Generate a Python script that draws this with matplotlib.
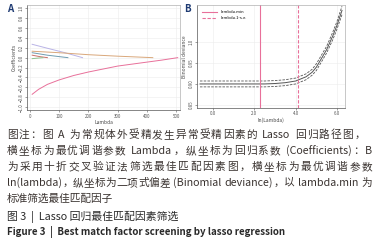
import re
import numpy as np
import matplotlib
matplotlib.use('Agg')
import matplotlib.pyplot as plt

plt.rcParams['font.family'] = ['Noto Sans CJK SC', 'DejaVu Sans']

# Panel A: coefficient paths (lambda, coefficient)
pink_lam = [8, 30, 60, 100, 150, 200, 250, 300, 350, 400, 450, 505]
pink_coef = [-0.74, -0.64, -0.54, -0.45, -0.36, -0.29, -0.23, -0.17, -0.13, -0.09, -0.05, 0.0]
lav_lam = [8, 60, 120, 180]
lav_coef = [0.27, 0.19, 0.10, 0.0]
tan_lam = [8, 100, 200, 300, 420]
tan_coef = [0.13, 0.10, 0.06, 0.03, 0.0]
blue_lam = [8, 60, 130]
blue_coef = [0.10, 0.05, 0.0]
red_lam = [8, 35, 60]
red_coef = [0.05, 0.02, 0.0]
green_lam = [8, 25, 45]
green_coef = [-0.02, -0.01, 0.0]

# Panel B: cross-validation curve
ln_lam = [-0.63, 0.5, 1.5, 2.5, 3.0, 3.5, 4.0, 4.5, 4.8, 5.0, 5.3, 5.5, 5.8, 6.0, 6.24]
deviance = [0.900, 0.900, 0.900, 0.900, 0.901, 0.903, 0.907, 0.917, 0.928, 0.940, 0.965, 0.982, 1.015, 1.040, 1.075]
dev_se = [0.007, 0.007, 0.007, 0.007, 0.007, 0.007, 0.007, 0.007, 0.007, 0.008, 0.008, 0.008, 0.009, 0.009, 0.010]
lambda_min = 2.26
lambda_1se = 4.09

caption = [
    "图注：图 A 为常规体外受精发生异常受精因素的 Lasso 回归路径图，",
    "横坐标为最优调谐参数 Lambda，纵坐标为回归系数 (Coefficients)：B",
    "为采用十折交叉验证法筛选最佳匹配因素图，横坐标为最优调谐参数",
    "ln(lambda)，纵坐标为二项式偏差 (Binomial deviance)，以 lambda.min 为",
    "标准筛选最佳匹配因子",
]
title_cn = "图 3  |  Lasso 回归最佳匹配因素筛选"
title_en = "Figure 3  |  Best match factor screening by lasso regression"

fig = plt.figure(figsize=(3.79, 2.48), dpi=100)
renderer = fig.canvas.get_renderer()


def style_axes(ax):
    ax.grid(True, color='#ececec', lw=0.4)
    ax.set_axisbelow(True)
    for s in ax.spines.values():
        s.set_color('#b0b0b0')
        s.set_linewidth(0.5)
    ax.spines['left'].set_color('#555555')
    ax.spines['bottom'].set_color('#555555')
    ax.tick_params(labelsize=3.2, length=1.5, width=0.4, pad=1, colors='#555555')
    for lab in ax.get_yticklabels():
        lab.set_rotation(90)
        lab.set_va('center')


def justified(line, x0, x1, y, size, color):
    """Draw one caption line stretched from pixel x0 to x1."""
    units = re.findall(r'[A-Za-z0-9().:\-]+|\s|.', line)
    widths = []
    for u in units:
        if u == ' ':
            widths.append(size * 0.35)
            continue
        t = fig.text(0, 0, u, fontsize=size)
        widths.append(t.get_window_extent(renderer).width)
        t.remove()
    gap = (x1 - x0 - sum(widths)) / (len(units) - 1)
    x = x0
    for u, w in zip(units, widths):
        if u != ' ':
            fig.text(x / 379, 1 - y / 248, u, fontsize=size, color=color, va='center')
        x += w + gap


# A
axA = fig.add_axes([0.071, 0.556, 0.404, 0.423])
axA.plot(pink_lam, pink_coef, color='#e8709a', lw=0.7)
axA.plot(lav_lam, lav_coef, color='#b9b3e6', lw=0.7)
axA.plot(tan_lam, tan_coef, color='#d9a77a', lw=0.7)
axA.plot(blue_lam, blue_coef, color='#6f9cb0', lw=0.7)
axA.plot(red_lam, red_coef, color='#c9706a', lw=0.7)
axA.plot(green_lam, green_coef, color='#8cc08c', lw=0.7)
axA.set_xlim(-10, 513)
axA.set_ylim(-1.06, 1.06)
axA.set_xticks([0, 100, 200, 300, 400, 500])
axA.set_yticks(np.round(np.arange(-1.0, 1.01, 0.2), 1))
axA.set_xlabel('Lambda', fontsize=3.5, labelpad=1, color='#444444')
axA.set_ylabel('Coefficients', fontsize=3.5, labelpad=1, color='#444444')
style_axes(axA)

# B
axB = fig.add_axes([0.52, 0.565, 0.39, 0.415])
dev = np.array(deviance)
se = np.array(dev_se)
axB.plot(ln_lam, dev, color='#555555', lw=0.7)
axB.plot(ln_lam, dev + se, color='#555555', lw=0.6, ls=(0, (3, 1.5)))
axB.plot(ln_lam, dev - se, color='#555555', lw=0.6, ls=(0, (3, 1.5)))
axB.axvline(lambda_min, color='#e8709a', lw=0.8, label='lambda.min')
axB.axvline(lambda_1se, color='#e8709a', lw=0.8, ls=(0, (3, 1.5)), label='lambda.1-s.e.')
axB.set_xlim(-0.77, 6.38)
axB.set_ylim(0.843, 1.088)
axB.set_xticks([0, 2, 4, 6])
axB.set_xticklabels(['0.0', '2.0', '4.0', '6.0'])
axB.set_yticks([0.85, 0.90, 0.95, 1.00])
axB.set_yticklabels(['0.85', '0.90', '0.95', '1.0'])
axB.set_xlabel('ln(Lambda)', fontsize=3.5, labelpad=1, color='#444444')
axB.set_ylabel('Binomial deviance', fontsize=3.5, labelpad=1, color='#444444')
axB.legend(loc='upper left', fontsize=3, frameon=False, handlelength=3.5, borderpad=0.8)
style_axes(axB)

fig.text(0.018, 0.962, 'A', fontsize=7, fontweight='bold', color='#1f3b73', va='center')
fig.text(0.487, 0.962, 'B', fontsize=7, fontweight='bold', color='#1f3b73', va='center')

ys = [135, 151, 167, 183, 199]
ends = [365, 372, 372, 372, None]
for line, y, x1 in zip(caption, ys, ends):
    if x1 is None:
        fig.text(7 / 379, 1 - y / 248, line, fontsize=7.7, color='#3a3330', va='center')
    else:
        justified(line, 7, x1, y, 7.7, '#3a3330')
fig.text(7 / 379, 1 - 217 / 248, title_cn, fontsize=7.8, color='#2a2a2a', va='center')
fig.text(7 / 379, 1 - 232 / 248, title_en, fontsize=7.0, fontweight='bold', color='#2a2a2a', va='center')

fig.savefig('out.png', dpi=100)
